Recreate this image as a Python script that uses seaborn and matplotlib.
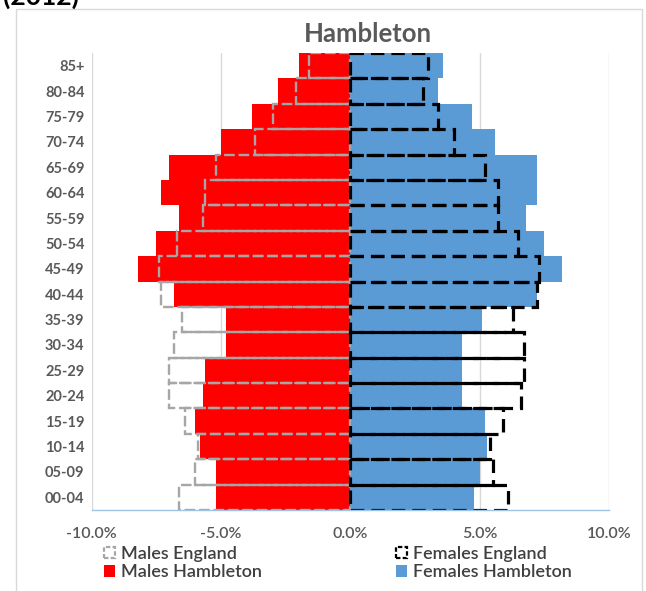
#Import libraries
import numpy as np
import pandas as pd
import matplotlib.pyplot as plt
import seaborn as sns
from matplotlib.patches import Patch, Rectangle
from matplotlib.ticker import FuncFormatter

#Data (% of each sex, 2012)
ages = ['00-04', '05-09', '10-14', '15-19', '20-24', '25-29', '30-34', '35-39', '40-44',
        '45-49', '50-54', '55-59', '60-64', '65-69', '70-74', '75-79', '80-84', '85+']
males_hambleton = [5.2, 5.2, 5.8, 6.0, 5.7, 5.6, 4.8, 4.8, 6.8, 8.2, 7.5, 6.6, 7.3, 7.0, 5.0, 3.8, 2.8, 2.0]
females_hambleton = [4.8, 5.0, 5.3, 5.2, 4.3, 4.3, 4.3, 5.1, 7.2, 8.2, 7.5, 6.8, 7.2, 7.2, 5.6, 4.7, 3.4, 3.6]
males_england = [6.6, 6.0, 5.9, 6.4, 7.0, 7.0, 6.8, 6.5, 7.3, 7.4, 6.7, 5.7, 5.6, 5.2, 3.7, 3.0, 2.1, 1.6]
females_england = [6.1, 5.5, 5.4, 5.9, 6.6, 6.7, 6.7, 6.3, 7.2, 7.3, 6.5, 5.7, 5.7, 5.2, 4.0, 3.4, 2.8, 3.0]

df = pd.DataFrame({'Age': ages,
                   'Males Hambleton': [-v for v in males_hambleton],
                   'Females Hambleton': females_hambleton,
                   'Males England': [-v for v in males_england],
                   'Females England': females_england})
order = ages[::-1]

sns.set_style('white')
plt.rcParams['font.family'] = ['Lato', 'DejaVu Sans']

fig = plt.figure(figsize=(6.46, 5.91), dpi=100)
ax = fig.add_axes([91.5/646, 1-510/591, (609-91.5)/646, (510-53)/591])

#Filled bars for Hambleton
sns.barplot(data=df, x='Males Hambleton', y='Age', order=order, orient='h', color='#FF0000',
            saturation=1, width=1.0, linewidth=0, ax=ax)
sns.barplot(data=df, x='Females Hambleton', y='Age', order=order, orient='h', color='#5B9BD5',
            saturation=1, width=1.0, linewidth=0, ax=ax)

#Outline bars for England
sns.barplot(data=df, x='Males England', y='Age', order=order, orient='h', color='#A6A6A6',
            saturation=1, width=1.0, fill=False, linewidth=1.7, linestyle=(0, (4.5, 1.6)), ax=ax)
sns.barplot(data=df, x='Females England', y='Age', order=order, orient='h', color='#000000',
            saturation=1, width=1.0, fill=False, linewidth=2.3, linestyle=(0, (4.2, 2.2)), ax=ax)

ax.set_xlim(-10, 10)
ax.set_ylim(17.5, -0.5)
ax.set_xticks([-10, -5, 0, 5, 10])
ax.xaxis.set_major_formatter(FuncFormatter(lambda v, p: f'{v:.1f}%'))
ax.set_xlabel('')
ax.set_ylabel('')
ax.xaxis.grid(True, color='#D9D9D9', linewidth=1)
ax.set_axisbelow(True)
for s in ['top', 'right', 'left']:
    ax.spines[s].set_visible(False)
ax.spines['bottom'].set_color('#9DC3E6')
ax.spines['bottom'].set_linewidth(1)
ax.tick_params(axis='x', length=0, pad=12, labelsize=11.5, labelcolor='#595959')
ax.tick_params(axis='y', length=0, pad=5, labelsize=10.5, labelcolor='#595959')
for lab in ax.get_yticklabels():
    lab.set_fontweight('bold')
for lab in ax.get_xticklabels():
    lab.set_fontweight('semibold')

#Title and header
fig.text(368/646, 1-42/591, 'Hambleton', ha='center', va='baseline', fontsize=18.5,
         fontweight='bold', color='#595959')
fig.text(3/646, 1-5/591, '(2012)', ha='left', va='baseline', fontsize=19,
         fontweight='bold', color='black')

#Chart border
fig.add_artist(Rectangle((16/646, -0.05), (642-16)/646, 1.05-9/591, transform=fig.transFigure,
                         fill=False, edgecolor='#D9D9D9', linewidth=1))

#Legend
handles = [Patch(facecolor='none', edgecolor='#A6A6A6', linestyle=(0, (2, 1)), linewidth=1.6, label='Males England'),
           Patch(facecolor='#FF0000', edgecolor='none', label='Males Hambleton'),
           Patch(facecolor='none', edgecolor='#000000', linestyle=(0, (2, 1)), linewidth=1.6, label='Females England'),
           Patch(facecolor='#5B9BD5', edgecolor='none', label='Females Hambleton')]
leg = fig.legend(handles=handles, ncol=2, loc='center left', bbox_to_anchor=(104/646, 1-563/591),
                 frameon=False, fontsize=13, handlelength=0.6, handleheight=0.6, handletextpad=0.35,
                 columnspacing=7.4, labelspacing=0.15, borderpad=0, borderaxespad=0)
for t in leg.get_texts():
    t.set_color('#404040')
    t.set_fontweight('semibold')

plt.savefig('out.png', dpi=100)
